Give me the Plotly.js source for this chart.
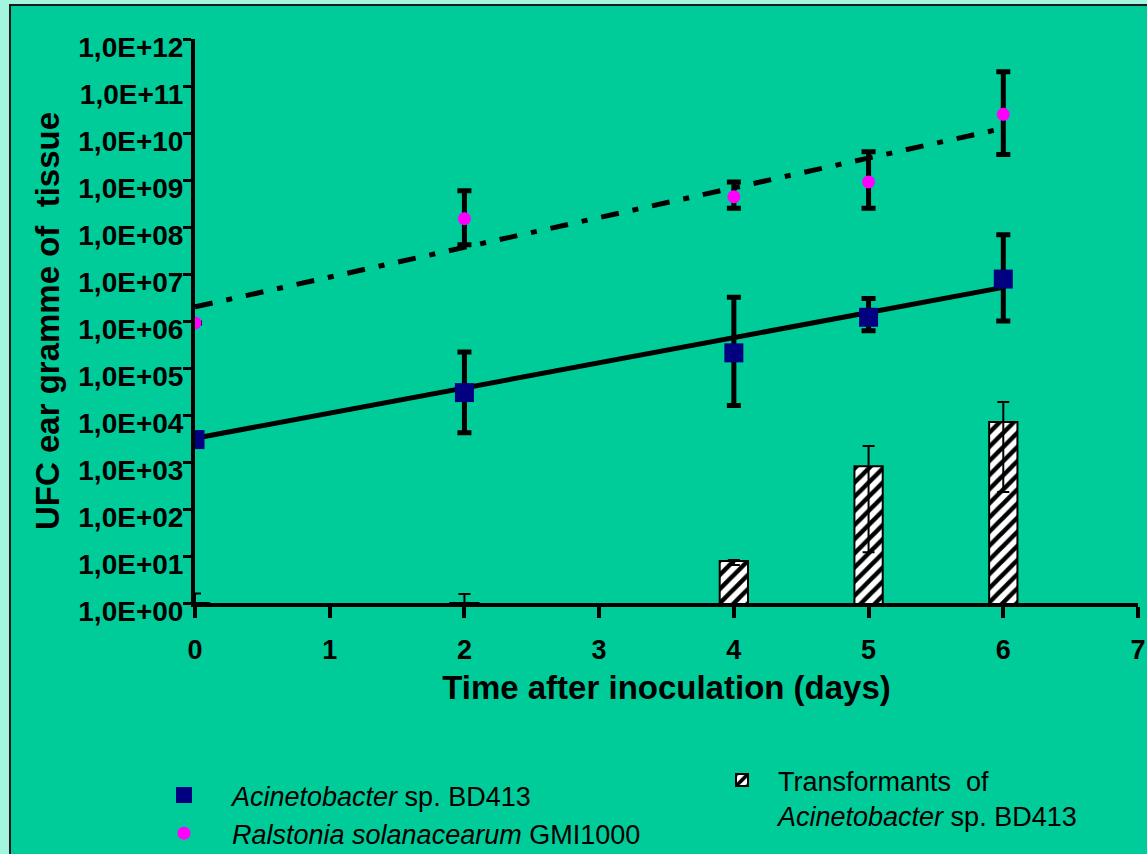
<!DOCTYPE html>
<html>
<head>
<meta charset="utf-8">
<script src="https://cdn.plot.ly/plotly-3.0.1.min.js"></script>
<style>html,body{margin:0;padding:0;background:#A2F6E0;}#chart{width:1147px;height:854px;}</style>
</head>
<body>
<div id="chart"></div>
<script>
// ---- data ----
const days = [0, 2, 4, 5, 6];

// Acinetobacter sp. BD413 (UFC per gramme of tissue)
const acineto     = [3.0e3, 3.0e4, 2.1e5, 1.2e6, 7.8e6];
const acinetoHigh = [3.0e3, 2.2e5, 3.2e6, 3.0e6, 6.8e7];
const acinetoLow  = [3.0e3, 4.2e3, 1.6e4, 6.2e5, 1.0e6];

// Ralstonia solanacearum GMI1000
const ralstonia     = [9.1e5, 1.5e8, 4.4e8, 9.1e8, 2.5e10];
const ralstoniaHigh = [9.1e5, 5.9e8, 9.1e8, 4.0e9, 2.0e11];
const ralstoniaLow  = [9.1e5, 4.2e7, 2.5e8, 2.5e8, 3.5e9];

// Transformants of Acinetobacter sp. BD413 (bars)
const transf     = [1, 1, 7.8, 8.1e2, 7.1e3];
const transfHigh = [1.6, 1.55, 8.2, 2.2e3, 1.9e4];
const transfLow  = [1, 1, 6.4, 12, 230];

// exponential trend lines (end points)
const trendDays      = [0, 6];
const acinetoTrend   = [3.2e3, 5.2e6];
const ralstoniaTrend = [2.0e6, 1.26e10];

// axis ticks
const yTickVals = [1e0,1e1,1e2,1e3,1e4,1e5,1e6,1e7,1e8,1e9,1e10,1e11,1e12];
const yTickText = ['1,0E+00','1,0E+01','1,0E+02','1,0E+03','1,0E+04','1,0E+05','1,0E+06',
                   '1,0E+07','1,0E+08','1,0E+09','1,0E+10','1,0E+11','1,0E+12'];
const xTickVals = [0,1,2,3,4,5,6,7];

// legend / axis texts
const nameAcineto   = '<i>Acinetobacter</i> sp. BD413';
const nameRalstonia = '<i>Ralstonia solanacearum</i> GMI1000';
const nameTransf    = 'Transformants  of<br><i>Acinetobacter</i> sp. BD413';
const xTitle = 'Time after inoculation (days)';
const yTitle = 'UFC ear gramme of  tissue';

const plus  = (hi, v) => hi.map((h, i) => h - v[i]);
const minus = (lo, v) => v.map((x, i) => x - lo[i]);

const FONT = 'Liberation Sans, Arial, sans-serif';

const traces = [
  {
    type: 'bar', x: days, y: transf, name: nameTransf, legend: 'legend2',
    width: 0.21,
    marker: {
      color: 'white',
      line: {color: 'black', width: 2},
      pattern: {shape: '/', fgcolor: 'black', bgcolor: 'white', size: 10, solidity: 0.45}
    },
    error_y: {type: 'data', symmetric: false, array: plus(transfHigh, transf),
              arrayminus: minus(transfLow, transf), color: 'black', thickness: 2, width: 6}
  },
  {
    type: 'scatter', mode: 'lines', x: trendDays, y: acinetoTrend, showlegend: false,
    line: {color: 'black', width: 5}, hoverinfo: 'skip'
  },
  {
    type: 'scatter', mode: 'lines', x: trendDays, y: ralstoniaTrend, showlegend: false,
    line: {color: 'black', width: 5, dash: '18px,14px,6px,14px'}, hoverinfo: 'skip'
  },
  {
    type: 'scatter', mode: 'markers', x: days, y: acineto, name: nameAcineto, legend: 'legend',
    marker: {symbol: 'square', size: 19, color: '#000080'},
    error_y: {type: 'data', symmetric: false, array: plus(acinetoHigh, acineto),
              arrayminus: minus(acinetoLow, acineto), color: 'black', thickness: 5, width: 7}
  },
  {
    type: 'scatter', mode: 'markers', x: days, y: ralstonia, name: nameRalstonia, legend: 'legend',
    marker: {symbol: 'circle', size: 13, color: '#FF00FF'},
    error_y: {type: 'data', symmetric: false, array: plus(ralstoniaHigh, ralstonia),
              arrayminus: minus(ralstoniaLow, ralstonia), color: 'black', thickness: 5, width: 7}
  }
];

// pixel -> paper helpers for the decorative frame and legends (plot area 195..1138 x 39..603)
const L = 195, R = 1138, T = 39, B = 603;
const px = p => (p - L) / (R - L);
const py = q => (B - q) / (B - T);

const layout = {
  width: 1147, height: 854,
  margin: {l: L, r: 1147 - R, t: T, b: 854 - B, pad: 0, autoexpand: false},
  paper_bgcolor: '#A2F6E0',
  plot_bgcolor: 'rgba(0,0,0,0)',
  font: {family: FONT, color: 'black'},
  showlegend: true,
  barmode: 'overlay',
  xaxis: {
    range: [0, 7], tickvals: xTickVals, showgrid: false, zeroline: false,
    showline: true, linecolor: 'black', linewidth: 4,
    ticks: 'outside', ticklen: 11, tickwidth: 4, tickcolor: 'black',
    ticklabelstandoff: 9,
    tickfont: {family: FONT, size: 27, weight: 'bold'},
    title: {text: xTitle, font: {family: FONT, size: 33, weight: 'bold'}, standoff: 12}
  },
  yaxis: {
    type: 'log', range: [0, 12], tickvals: yTickVals, ticktext: yTickText,
    showgrid: false, zeroline: false,
    showline: true, linecolor: 'black', linewidth: 4,
    ticks: 'outside', ticklen: 8, tickwidth: 3, tickcolor: 'black',
    ticklabelshift: 8, ticklabelstandoff: -6,
    tickfont: {family: FONT, size: 28, weight: 'bold'},
    title: {text: yTitle, font: {family: FONT, size: 33, weight: 'bold'}, standoff: 10}
  },
  legend: {
    x: px(136), y: py(771), xanchor: 'left', yanchor: 'top',
    bgcolor: 'rgba(0,0,0,0)', borderwidth: 0, itemwidth: 86,
    font: {family: FONT, size: 27, color: 'black'}, tracegroupgap: 0
  },
  legend2: {
    x: px(706), y: py(756), xanchor: 'left', yanchor: 'top', valign: 'top',
    bgcolor: 'rgba(0,0,0,0)', borderwidth: 0, itemwidth: 62,
    font: {family: FONT, size: 27, color: 'black'}
  },
  shapes: [
    {type: 'rect', xref: 'paper', yref: 'paper', layer: 'below',
     x0: px(10), x1: px(1170), y0: py(880), y1: py(5),
     fillcolor: '#00CC99', line: {color: '#1a1a1a', width: 2}}
  ]
};

Plotly.newPlot('chart', traces, layout, {displayModeBar: false, staticPlot: true});
</script>
</body>
</html>
